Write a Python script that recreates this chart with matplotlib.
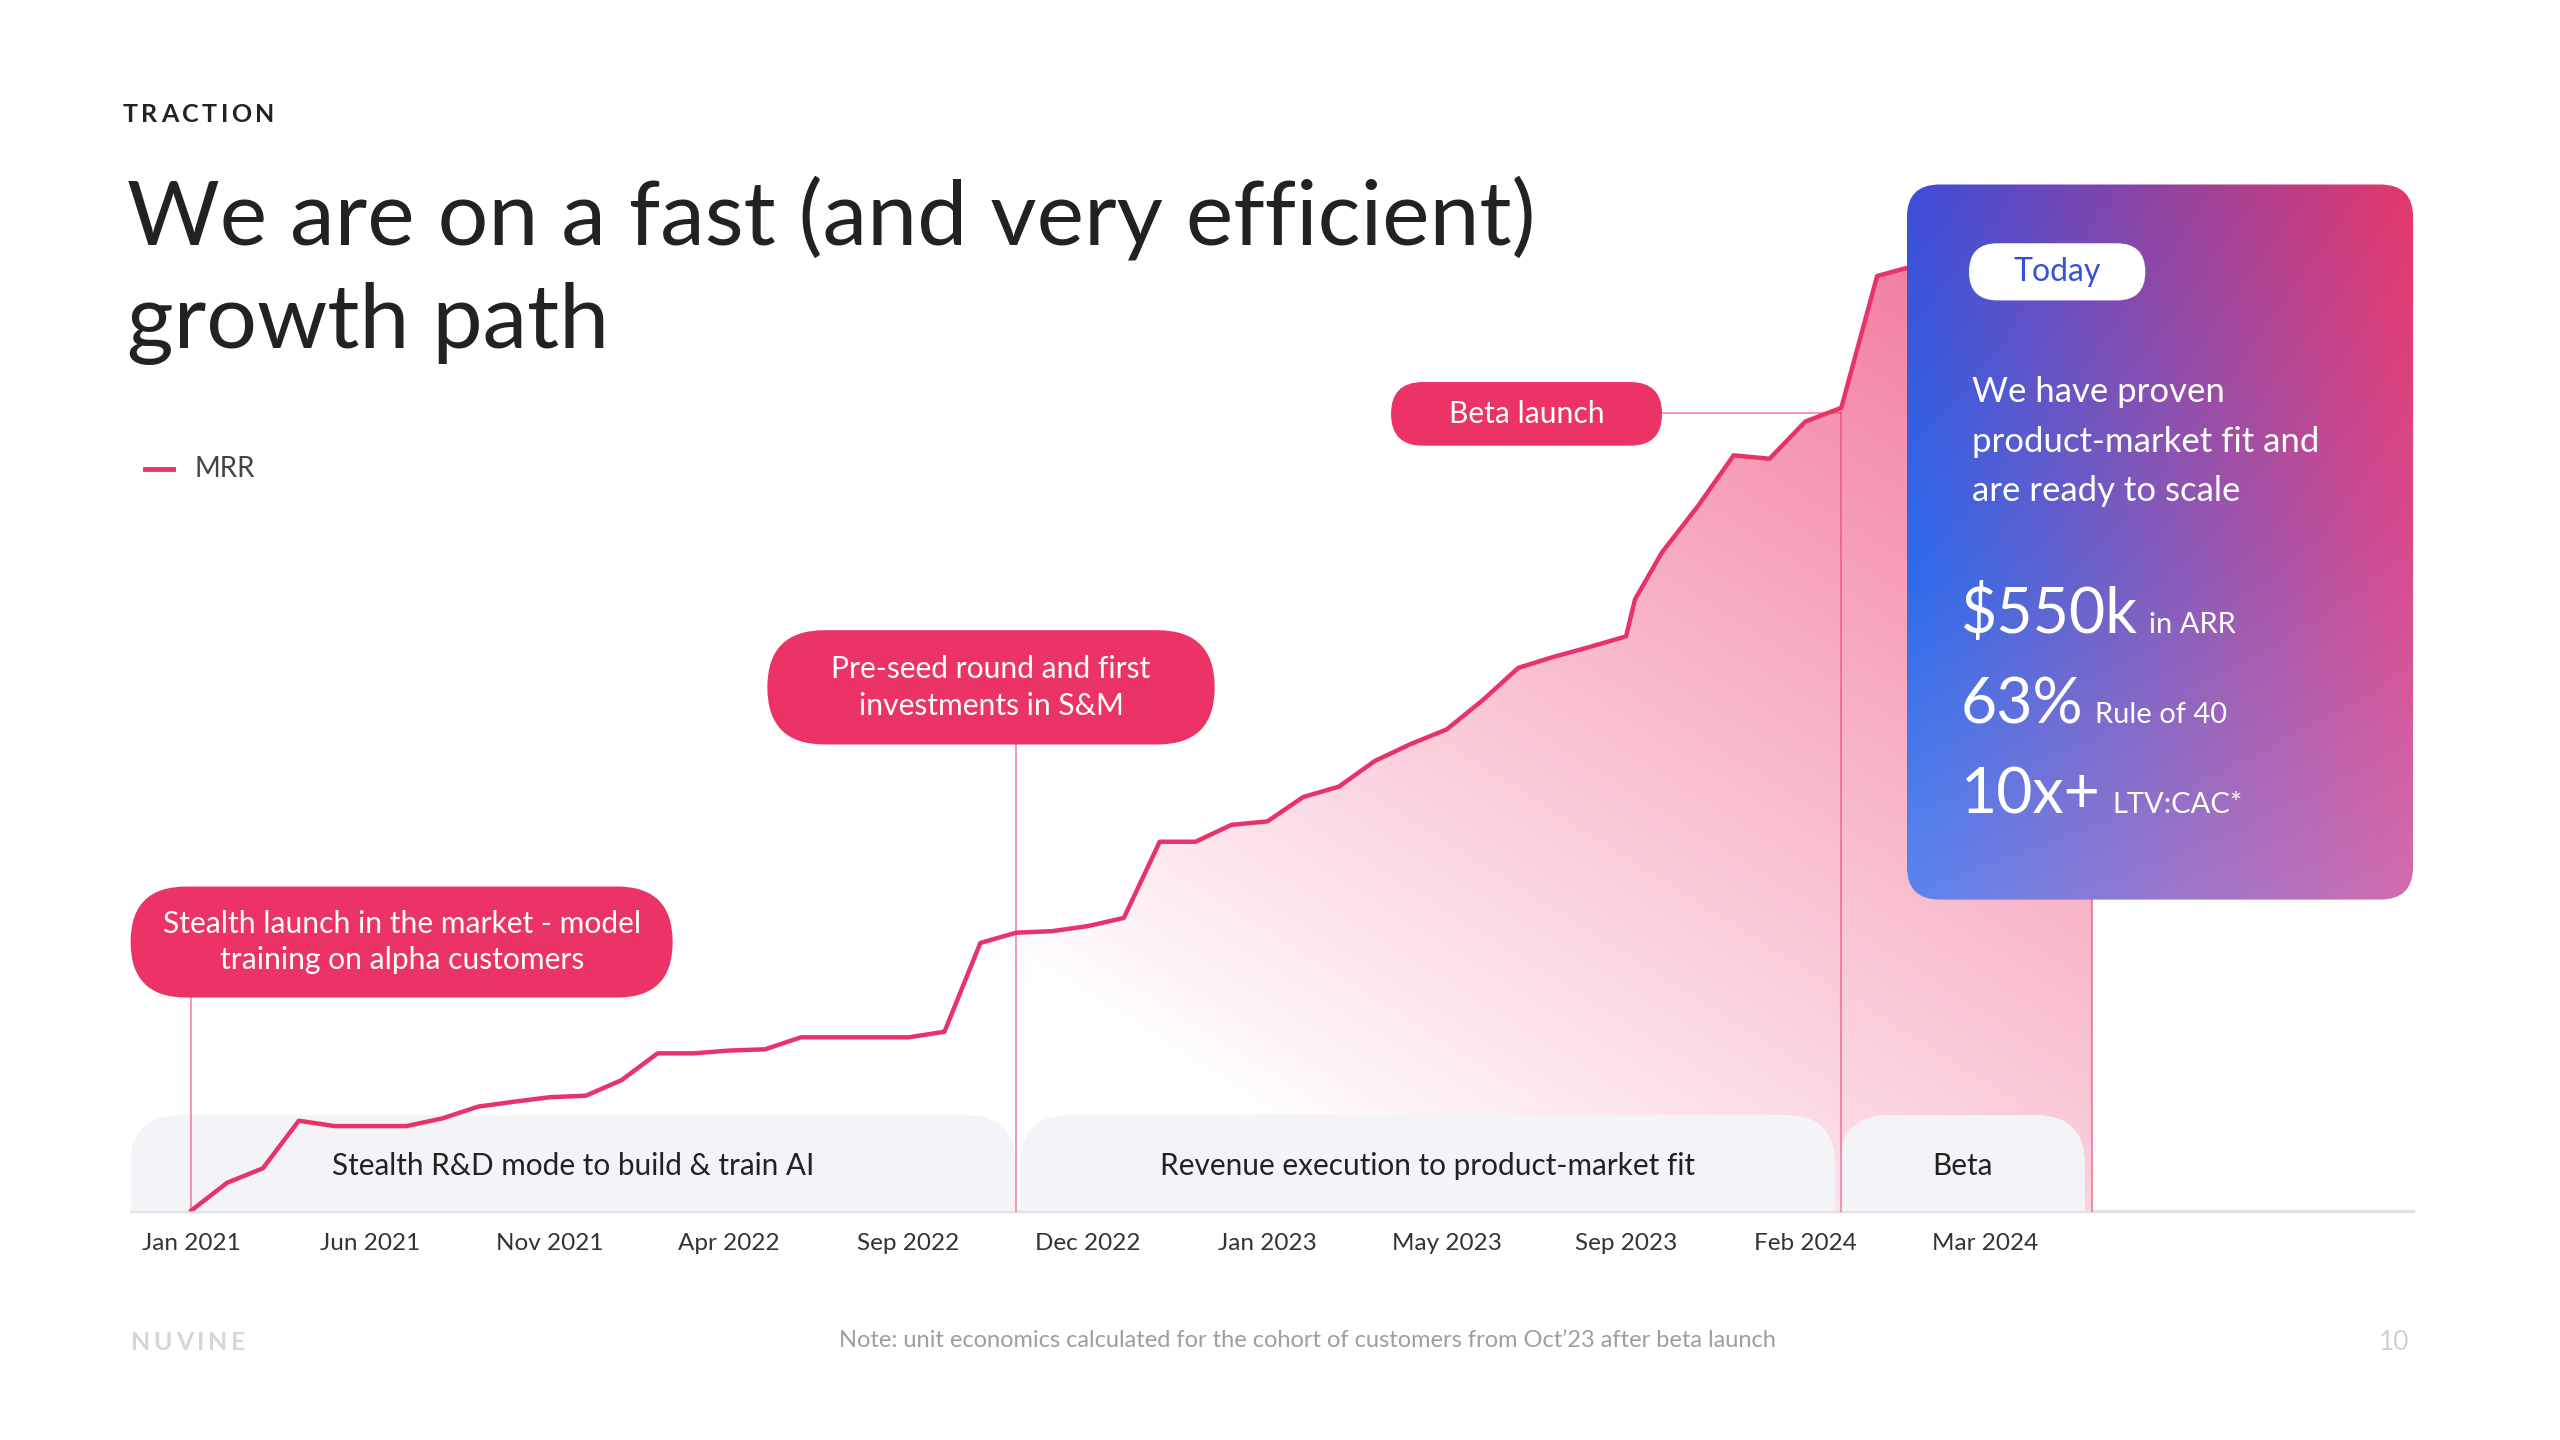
import numpy as np
import matplotlib
matplotlib.use("Agg")
import matplotlib.pyplot as plt
from matplotlib.patches import FancyBboxPatch
from matplotlib.transforms import blended_transform_factory
from matplotlib.colors import to_rgb

plt.rcParams['font.family'] = ['Lato', 'DejaVu Sans']

# ---- data (MRR, $k per month) ----
mrr_x = np.r_[np.arange(41), 40.25, np.arange(41, 54)]
mrr = [0.0, 1.30, 1.98, 4.20, 3.95, 3.95, 3.95, 4.31, 4.86, 5.09,
       5.30, 5.37, 6.10, 7.35, 7.35, 7.48, 7.54, 8.10, 8.10, 8.10,
       8.10, 8.36, 12.51, 12.99, 13.06, 13.30, 13.68, 17.24, 17.24, 18.03,
       18.19, 19.33, 19.82, 21.02, 21.81, 22.49, 23.85, 25.37, 25.89, 26.35,
       26.84, 28.57, 30.76, 32.92, 35.30, 35.14, 36.88, 37.52, 43.68, 44.14,
       44.6, 45.0, 45.3, 45.6, 45.8]
tick_idx = [0, 5, 10, 15, 20, 25, 30, 35, 40, 45, 50]
tick_labels = ["Jan 2021", "Jun 2021", "Nov 2021", "Apr 2022", "Sep 2022",
               "Dec 2022", "Jan 2023", "May 2023", "Sep 2023", "Feb 2024", "Mar 2024"]
phase_bounds = [0, 23, 46, 53]
phase_names = ["Stealth R&D mode to build & train AI",
               "Revenue execution to product-market fit", "Beta"]
stats = [("$550k", "in ARR"), ("63%", "Rule of 40"), ("10x+", "LTV:CAC*")]

PINK = "#EC3366"
W, H = 1568, 882          # layout grid (same aspect as 2560x1440)
YMAX = 48.95

fig = plt.figure(figsize=(25.6, 14.4), dpi=100)
fig.patch.set_facecolor("white")

# main chart axes: baseline at y=741.5, x from 80 to 1478 on the layout grid
ax = fig.add_axes([80 / W, 1 - 741.5 / H, 1398 / W, 641.5 / H])
# full-figure layout axes for boxes and text
lay = fig.add_axes([0, 0, 1, 1])
lay.set_xlim(0, W)
lay.set_ylim(H, 0)
lay.axis("off")

ax.set_xlim(-1.689, 61.94)
ax.set_ylim(0, YMAX)
for s in ax.spines.values():
    s.set_visible(False)
ax.set_yticks([])
ax.set_xticks(tick_idx, tick_labels)
ax.tick_params(axis="x", length=0, pad=16, labelsize=17.5, labelcolor="#333333")
ax.set_facecolor("none")
ax.axhline(0, color="#E3E3E3", lw=2.5, clip_on=False, zorder=2)

# gradient area under the line
area = ax.fill_between(mrr_x, mrr, 0, facecolor="none", edgecolor="none")
gx = np.linspace(0, 53, 500)
gy = np.linspace(0, YMAX, 400)
GX, GY = np.meshgrid(gx, gy)
X = (117.1 + 21.97 * GX - 600) / 680
Y = GY / 0.0763 / 581
alpha = 0.62 * np.clip(0.75 * Y + 0.55 * X - 0.2, 0, 1)
img = np.zeros(GX.shape + (4,))
img[..., :3] = to_rgb(PINK)
img[..., 3] = alpha
im = ax.imshow(img, extent=[0, 53, 0, YMAX], origin="lower", aspect="auto",
               interpolation="bilinear", zorder=1)
im.set_clip_path(area.get_paths()[0], transform=ax.transData)

# phase bands (rounded tops), sitting on the baseline
gaps = [(80, 622), (625, 1124), (1127, 1277)]
for (x0, x1), name in zip(gaps, phase_names):
    band = FancyBboxPatch((x0, 683), x1 - x0, 100,
                          boxstyle="round,pad=0,rounding_size=30",
                          facecolor="#F4F3F7", edgecolor="none",
                          transform=lay.transData, zorder=2)
    ax.add_patch(band)
    ax.text((x0 + x1) / 2, 714, name, transform=lay.transData, ha="center",
            va="center", fontsize=21.4, color="#222222", zorder=3)

# milestone guide lines
mix = blended_transform_factory(ax.transData, lay.transData)
guide_tops = [611, 456, 253, 551]
for xb, yt in zip(phase_bounds, guide_tops):
    ax.plot([xb, xb], [yt, 741.5], color=PINK, alpha=0.55, lw=1.3,
            transform=mix, clip_on=False, zorder=2.5)
beta_x = lay.transData.inverted().transform(ax.transData.transform((phase_bounds[2], 0)))[0]
lay.plot([1018, beta_x], [253, 253], color=PINK, alpha=0.55, lw=1.3, zorder=2.5)

# MRR line
ax.plot(mrr_x, mrr, color="#E8336A", lw=3.2, zorder=4, solid_joinstyle="round")

fig.canvas.draw()
rend = fig.canvas.get_renderer()
inv = lay.transData.inverted()


def spaced_text(x, y, s, gap, **kw):
    # draw letters one by one with extra tracking
    for ch in s:
        t = lay.text(x, y, ch, **kw)
        bb = t.get_window_extent(rend)
        x = inv.transform((bb.x1, bb.y0))[0] + gap


# header text
spaced_text(75, 70, "TRACTION", 2.2, fontsize=18, weight="bold", color="#222222", va="center")
lay.text(78, 150, "We are on a fast (and very efficient)", fontsize=64.5,
         color="#222222", va="baseline")
lay.text(78, 213, "growth path", fontsize=64.5, color="#222222", va="baseline")

# legend
lay.plot([89, 106], [287, 287], color=PINK, lw=3.5)
lay.text(119, 287, "MRR", fontsize=20, color="#444444", va="center")

# callout pills
pills = [
    ((80, 543, 332, 68), "Stealth launch in the market - model\ntraining on alpha customers"),
    ((470, 386, 274, 70), "Pre-seed round and first\ninvestments in S&M"),
    ((852, 234, 166, 39), "Beta launch"),
]
for (x0, y0, w, h), txt in pills:
    lay.add_patch(FancyBboxPatch((x0, y0), w, h,
                                 boxstyle=f"round,pad=0,rounding_size={h / 2}",
                                 facecolor=PINK, edgecolor="none"))
    lay.text(x0 + w / 2, y0 + h / 2, txt, ha="center", va="center",
             fontsize=21.6, color="white", linespacing=1.38)

# "Today" card with blue -> pink gradient
cx0, cy0, cw, ch = 1168, 113, 310, 438
card = FancyBboxPatch((cx0, cy0), cw, ch, boxstyle="round,pad=0,rounding_size=20",
                      facecolor="none", edgecolor="none")
lay.add_patch(card)
left = np.array([to_rgb(c) for c in ["#3D4ED8", "#2D6CEB", "#5C85EE"]])
right = np.array([to_rgb(c) for c in ["#E4386A", "#D94A8C", "#D26DAF"]])
tt = np.linspace(0, 1, 220)
lc = np.stack([np.interp(tt, [0, 0.55, 1], left[:, k]) for k in range(3)], axis=1)
rc = np.stack([np.interp(tt, [0, 0.5, 1], right[:, k]) for k in range(3)], axis=1)
u = np.linspace(0, 1, 160)[None, :, None]
cimg = lc[:, None, :] * (1 - u) + rc[:, None, :] * u
cim = lay.imshow(cimg, extent=[cx0, cx0 + cw, cy0 + ch, cy0], aspect="auto",
                 interpolation="bilinear", zorder=5)
cim.set_clip_path(card)

lay.add_patch(FancyBboxPatch((1206, 149), 108, 35,
                             boxstyle="round,pad=0,rounding_size=17.5",
                             facecolor="white", edgecolor="none", zorder=6))
lay.text(1260, 166.5, "Today", ha="center", va="center", fontsize=23,
         color="#3652D4", zorder=7)
for yy, line in zip([240, 271, 301], ["We have proven", "product-market fit and",
                                      "are ready to scale"]):
    lay.text(1208, yy, line, va="center", fontsize=25, color="white", zorder=7)

for yy, (big, small) in zip([388, 443, 498], stats):
    tb = lay.text(1201, yy, big, va="baseline", fontsize=45, color="white", zorder=7)
    bb = tb.get_window_extent(rend)
    xr = inv.transform((bb.x1, bb.y0))[0]
    lay.text(xr + 7, yy, small, va="baseline", fontsize=21, color="white", zorder=7)

# footer
spaced_text(80, 822, "NUVINE", 2.3, fontsize=18, weight="bold", color="#D6D6D6", va="center")
lay.text(801, 821, "Note: unit economics calculated for the cohort of customers from Oct\u201923 after beta launch",
         ha="center", va="center", fontsize=17, color="#9E9E9E")
lay.text(1476, 822, "10", ha="right", va="center", fontsize=19, color="#D0D0D0")

fig.savefig("out.png", dpi=100)
